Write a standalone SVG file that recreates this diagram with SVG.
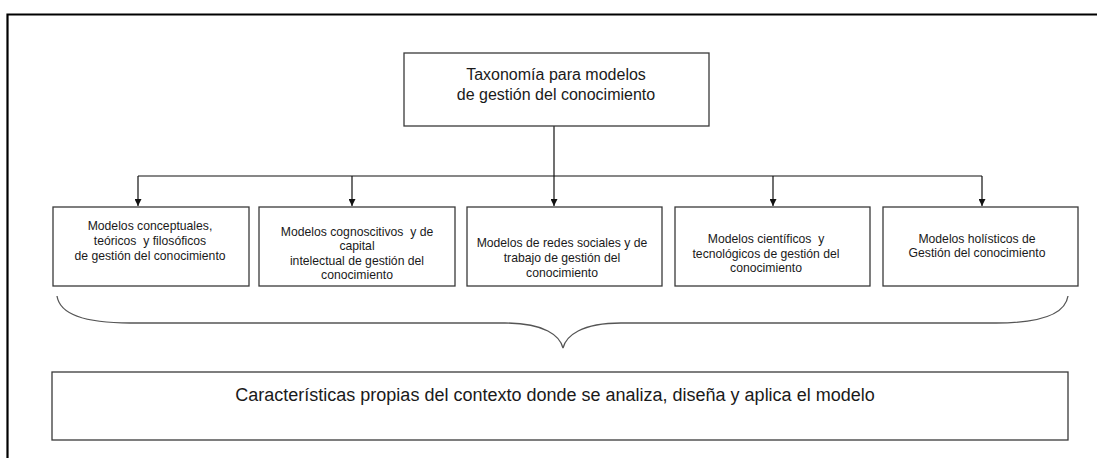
<svg xmlns="http://www.w3.org/2000/svg" width="1097" height="458" viewBox="0 0 1097 458">
  <defs>
    <marker id="ah" viewBox="0 0 10 10" refX="10" refY="5" markerWidth="7" markerHeight="7" markerUnits="userSpaceOnUse" orient="auto">
      <path d="M0,0 L10,5 L0,10 z" fill="#111"/>
    </marker>
  </defs>
  <style>
    .box { fill: #fff; stroke: #3a3a3a; stroke-width: 1.3; }
    .t { font-family: "Liberation Sans", Arial, sans-serif; fill: #1a1a1a; text-anchor: middle; white-space: pre; }
    .big { font-size: 16px; }
    .ctx { font-size: 18px; }
    .small { font-size: 12.2px; }
    .conn { fill: none; stroke: #111; stroke-width: 1.2; }
    .brace { fill: none; stroke: #555; stroke-width: 1.3; }
  </style>
  <rect width="1097" height="458" fill="#fff"/>
  <path d="M7.5,470 L7.5,14.5 L1110,14.5" fill="none" stroke="#000" stroke-width="2.2"/>

  <g id="connectors">
    <line class="conn" x1="554" y1="126" x2="554" y2="176"/>
    <line class="conn" x1="138" y1="176" x2="982" y2="176"/>
    <line class="conn" x1="138" y1="176" x2="138" y2="206" marker-end="url(#ah)"/>
    <line class="conn" x1="352" y1="176" x2="352" y2="206" marker-end="url(#ah)"/>
    <line class="conn" x1="554" y1="176" x2="554" y2="206" marker-end="url(#ah)"/>
    <line class="conn" x1="773" y1="176" x2="773" y2="206" marker-end="url(#ah)"/>
    <line class="conn" x1="982" y1="176" x2="982" y2="206" marker-end="url(#ah)"/>
  </g>

  <g id="brace">
    <path class="brace" d="M57,296 C60,316 90,323 130,323 L505,323 C545,323 560,336 563,348 C566,336 581,323 621,323 L996,323 C1036,323 1065,316 1068,296"/>
  </g>

  <g id="root">
    <rect class="box" x="404" y="53" width="305" height="73"/>
    <text class="t big" x="556" y="80">Taxonomía para modelos</text>
    <text class="t big" x="556" y="100">de gestión del conocimiento</text>
  </g>

  <g id="m1">
    <rect class="box" x="53" y="207" width="196" height="79"/>
    <text class="t small" x="150" y="230">Modelos conceptuales,</text>
    <text class="t small" x="150" y="245">teóricos  y filosóficos</text>
    <text class="t small" x="150" y="260">de gestión del conocimiento</text>
  </g>

  <g id="m2">
    <rect class="box" x="259" y="207" width="196" height="79"/>
    <text class="t small" x="357" y="236">Modelos cognoscitivos  y de</text>
    <text class="t small" x="357" y="250">capital</text>
    <text class="t small" x="357" y="265">intelectual de gestión del</text>
    <text class="t small" x="357" y="279">conocimiento</text>
  </g>

  <g id="m3">
    <rect class="box" x="467" y="207" width="195" height="79"/>
    <text class="t small" x="562" y="247">Modelos de redes sociales y de</text>
    <text class="t small" x="562" y="262">trabajo de gestión del</text>
    <text class="t small" x="562" y="277">conocimiento</text>
  </g>

  <g id="m4">
    <rect class="box" x="675" y="207" width="195" height="79"/>
    <text class="t small" x="766" y="243">Modelos científicos  y</text>
    <text class="t small" x="766" y="258">tecnológicos de gestión del</text>
    <text class="t small" x="766" y="272">conocimiento</text>
  </g>

  <g id="m5">
    <rect class="box" x="883" y="207" width="195" height="79"/>
    <text class="t small" x="977" y="243">Modelos holísticos de</text>
    <text class="t small" x="977" y="257">Gestión del conocimiento</text>
  </g>

  <g id="context">
    <rect class="box" x="52" y="372" width="1016" height="68"/>
    <text class="t ctx" x="555" y="401">Características propias del contexto donde se analiza, diseña y aplica el modelo</text>
  </g>
</svg>
